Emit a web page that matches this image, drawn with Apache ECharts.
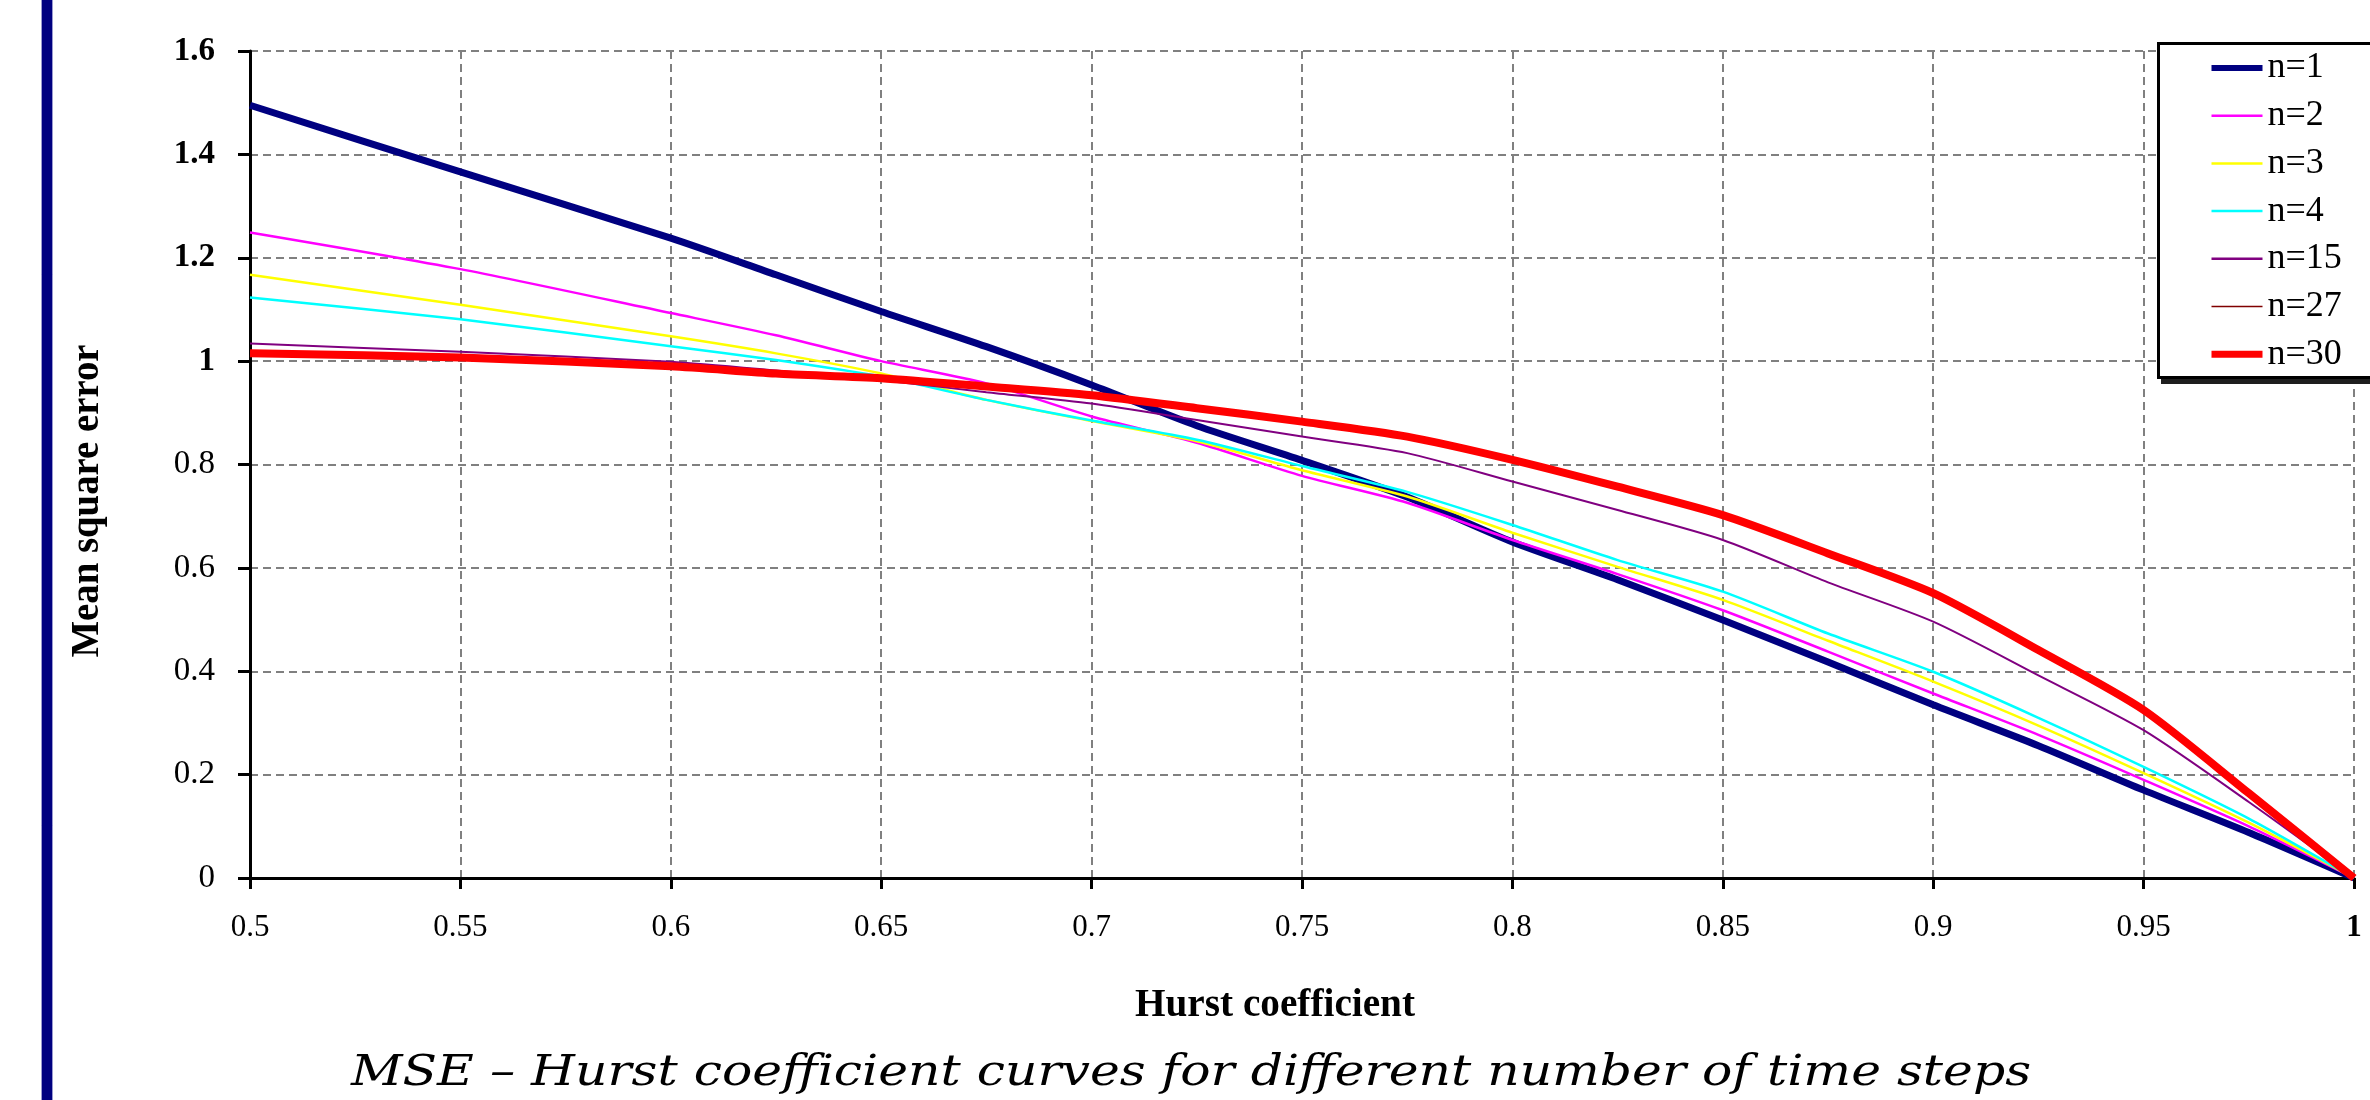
<!DOCTYPE html>
<html><head><meta charset="utf-8">
<script src="https://cdn.jsdelivr.net/npm/echarts@6/dist/echarts.min.js"></script>
<style>html,body{margin:0;padding:0;background:#fff;overflow:hidden}#c{width:2370px;height:1100px}</style>
</head><body><div id="c"></div>
<script>
// ---- data ----
const hurst = [0.5, 0.55, 0.6, 0.625, 0.65, 0.675, 0.7, 0.725, 0.75, 0.775, 0.8, 0.825, 0.85, 0.875, 0.9, 0.925, 0.95, 0.975, 1.0];
const seriesNames = ['n=1', 'n=2', 'n=3', 'n=4', 'n=15', 'n=27', 'n=30'];
const mseN1  = [1.495, 1.366, 1.238, 1.167, 1.096, 1.028, 0.954, 0.875, 0.808, 0.737, 0.650, 0.577, 0.499, 0.418, 0.335, 0.256, 0.170, 0.088, 0];
const mseN2  = [1.249, 1.178, 1.093, 1.050, 1.000, 0.957, 0.893, 0.842, 0.778, 0.726, 0.654, 0.588, 0.518, 0.438, 0.357, 0.277, 0.190, 0.100, 0];
const mseN3  = [1.167, 1.109, 1.048, 1.015, 0.976, 0.925, 0.884, 0.845, 0.789, 0.738, 0.668, 0.602, 0.538, 0.459, 0.380, 0.295, 0.203, 0.107, 0];
const mseN4  = [1.123, 1.081, 1.029, 1.002, 0.970, 0.925, 0.885, 0.848, 0.797, 0.747, 0.683, 0.615, 0.554, 0.473, 0.399, 0.310, 0.215, 0.115, 0];
const mseN15 = [1.034, 1.018, 0.999, 0.982, 0.963, 0.940, 0.918, 0.886, 0.854, 0.822, 0.767, 0.712, 0.654, 0.572, 0.496, 0.392, 0.286, 0.147, 0];
const mseN27 = [1.012, 1.004, 0.988, 0.974, 0.964, 0.949, 0.932, 0.906, 0.880, 0.851, 0.806, 0.754, 0.699, 0.625, 0.548, 0.438, 0.322, 0.161, 0];
const mseN30 = [1.015, 1.007, 0.990, 0.976, 0.967, 0.951, 0.934, 0.909, 0.883, 0.854, 0.809, 0.757, 0.702, 0.628, 0.551, 0.441, 0.325, 0.164, 0];
const xTickLabels = ['0.5', '0.55', '0.6', '0.65', '0.7', '0.75', '0.8', '0.85', '0.9', '0.95', '1'];
const yTickLabels = ['0', '0.2', '0.4', '0.6', '0.8', '1', '1.2', '1.4', '1.6'];
const xAxisTitle = 'Hurst coefficient';
const yAxisTitle = 'Mean square error';
const caption = 'MSE \u2013 Hurst coefficient curves for different number of time steps';

// ---- styling ----
const allValues = [mseN1, mseN2, mseN3, mseN4, mseN15, mseN27, mseN30];
const colors = ['#000080', '#FF00FF', '#FFFF00', '#00FFFF', '#800080', '#800000', '#FF0000'];
const widths = [7, 2.5, 2.5, 2.5, 2, 1.5, 8];
const legendWidths = [6, 2.5, 2.5, 2.5, 2.5, 1.5, 7];
const SERIF = '"Liberation Serif", "Times New Roman", serif';

const ctx = document.createElement('canvas').getContext('2d');
function fitScale(text, font, target) {
  ctx.font = font;
  return target / ctx.measureText(text).width;
}
const capFont = 'italic 43px "DejaVu Serif"';
const xTitleFont = 'bold 39px "Liberation Serif"';
const yTitleFont = 'bold 39px "Liberation Serif"';

const chart = echarts.init(document.getElementById('c'), null, {renderer: 'canvas'});
const option = {
  animation: false,
  backgroundColor: '#fff',
  grid: {left: 250, right: 16, top: 51, bottom: 222, containLabel: false},
  xAxis: {
    type: 'value', min: 0.5, max: 1, interval: 0.05,
    axisLine: {lineStyle: {color: '#000', width: 3}},
    axisTick: {length: 11, lineStyle: {color: '#000', width: 3}},
    axisLabel: {
      margin: 34, color: '#000', fontFamily: SERIF, fontSize: 31,
      formatter: v => {
        const t = xTickLabels[Math.round((v - 0.5) / 0.05)];
        return t === '1' ? '{b|' + t + '}' : '{n|' + t + '}';
      },
      rich: {
        n: {fontFamily: SERIF, fontSize: 31, color: '#000'},
        b: {fontFamily: SERIF, fontSize: 31, fontWeight: 'bold', color: '#000'}
      }
    },
    splitLine: {show: true, lineStyle: {color: '#808080', width: 2, type: [8, 5]}}
  },
  yAxis: {
    type: 'value', min: 0, max: 1.6, interval: 0.2,
    axisLine: {show: true, lineStyle: {color: '#000', width: 3}},
    axisTick: {show: true, length: 12, lineStyle: {color: '#000', width: 3}},
    axisLabel: {
      margin: 35, color: '#000', fontFamily: SERIF, fontSize: 33,
      formatter: v => {
        const t = yTickLabels[Math.round(v / 0.2)];
        return v >= 0.99 ? '{b|' + t + '}' : '{n|' + t + '}';
      },
      rich: {
        n: {fontFamily: SERIF, fontSize: 33, color: '#000'},
        b: {fontFamily: SERIF, fontSize: 33, fontWeight: 'bold', color: '#000'}
      }
    },
    splitLine: {show: true, lineStyle: {color: '#808080', width: 2, type: [8, 5]}}
  },
  legend: {
    orient: 'vertical', left: 2208, top: 50, padding: 0,
    itemWidth: 51, itemHeight: 12, itemGap: 11.7,
    itemStyle: {opacity: 0},
    textStyle: {fontFamily: SERIF, fontSize: 36, color: '#000', lineHeight: 36},
    data: seriesNames.map((name, k) => ({name, lineStyle: {width: legendWidths[k], color: colors[k]}})),
    z: 20, selectedMode: false
  },
  series: seriesNames.map((name, k) => ({
    name, type: 'line', symbol: 'none', smooth: 0.25,
    data: hurst.map((h, i) => [h, allValues[k][i]]),
    lineStyle: {color: colors[k], width: widths[k]},
    itemStyle: {color: colors[k]},
    z: 2 + k * 0.1
  })),
  graphic: [
    {type: 'rect', z: 1, shape: {x: 41.5, y: -2, width: 11, height: 1104},
     style: {fill: '#000080', stroke: '#9a9ad0', lineWidth: 1}},
    {type: 'rect', z: 15, shape: {x: 2161, y: 48, width: 300, height: 336}, style: {fill: '#1e1e1e'}},
    {type: 'rect', z: 16, shape: {x: 2158.5, y: 43.5, width: 300, height: 334},
     style: {fill: '#fff', stroke: '#000', lineWidth: 3}},
    {type: 'text', z: 5, x: 1275, y: 1006, scaleX: fitScale(xAxisTitle, xTitleFont, 280),
     style: {text: xAxisTitle, font: xTitleFont, fill: '#000', align: 'center', verticalAlign: 'middle'}},
    {type: 'text', z: 5, x: 88, y: 501, rotation: Math.PI / 2, scaleX: fitScale(yAxisTitle, yTitleFont, 313),
     style: {text: yAxisTitle, font: yTitleFont, fill: '#000', align: 'center', verticalAlign: 'middle'}},
    {type: 'text', z: 5, x: 1191, y: 1074, scaleX: fitScale(caption, capFont, 1680),
     style: {text: caption, font: capFont, fill: '#000', align: 'center', verticalAlign: 'middle'}}
  ]
};
chart.setOption(option);
</script>
</body></html>
